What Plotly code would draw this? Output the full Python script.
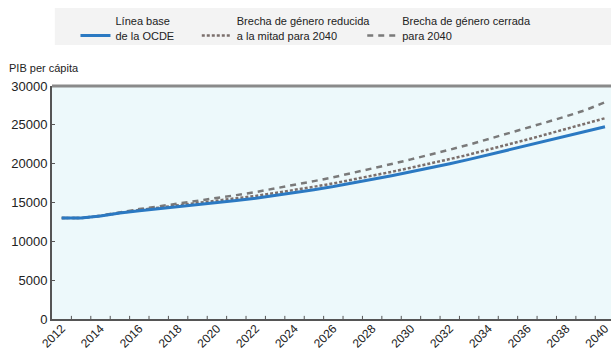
import plotly.graph_objects as go

# PIB per cápita projections, 2012-2040
years = list(range(2012, 2041))

linea_base = [13000, 13000, 13250, 13650, 13950, 14200, 14450, 14700, 14950, 15250,
              15550, 15900, 16250, 16650, 17050, 17500, 17950, 18450, 18950, 19450,
              20000, 20550, 21150, 21750, 22300, 22900, 23500, 24100, 24750]

brecha_mitad = [13000, 13000, 13270, 13700, 14050, 14330, 14620, 14900, 15200, 15520,
                15850, 16220, 16600, 17030, 17460, 17940, 18420, 18950, 19480, 20010,
                20590, 21170, 21800, 22430, 23110, 23790, 24470, 25150, 25850]

brecha_cerrada = [13000, 13000, 13300, 13750, 14150, 14500, 14850, 15200, 15550, 15950,
                  16350, 16800, 17250, 17750, 18250, 18800, 19350, 19950, 20550, 21150,
                  21800, 22450, 23150, 23850, 24600, 25350, 26100, 26900, 27900]

names = ["Línea base<br>de la OCDE",
         "Brecha de género reducida<br>a la mitad para 2040",
         "Brecha de género cerrada<br>para 2040"]

y_ticks = [0, 5000, 10000, 15000, 20000, 25000, 30000]
x_ticks = list(range(2012, 2041, 2))
x_bounds = [y - 0.5 for y in range(2012, 2042)]

FONT = "Liberation Sans, Arial, sans-serif"
X_RANGE = [2011.5, 2040.31]

fig = go.Figure()

# draw order: dashed and dotted under the baseline
fig.add_trace(go.Scatter(x=years, y=brecha_cerrada, name=names[2], mode="lines",
                         line=dict(color="#7a7a7a", width=2.5, dash="6px,5px"),
                         legend="legend3"))
fig.add_trace(go.Scatter(x=years, y=brecha_mitad, name=names[1], mode="lines",
                         line=dict(color="#7b6f6c", width=2.5, dash="3px,2px"),
                         legend="legend2"))
fig.add_trace(go.Scatter(x=years, y=linea_base, name=names[0], mode="lines",
                         line=dict(color="#2b79c2", width=3),
                         legend="legend"))

def leg(x):
    return dict(x=x, y=1.337, xanchor="left", yanchor="top",
                bgcolor="rgba(0,0,0,0)",
                font=dict(family=FONT, size=11, color="#222222"),
                valign="bottom", itemwidth=30)

fig.update_layout(
    width=611, height=352,
    margin=dict(l=52, r=0, t=86, b=33, autoexpand=False),
    paper_bgcolor="white",
    plot_bgcolor="#edf9fb",
    showlegend=True,
    legend=leg(0.042),
    legend2=leg(0.259),
    legend3=leg(0.555),
    font=dict(family=FONT, size=12, color="#222222"),
    xaxis=dict(
        range=X_RANGE,
        tickmode="array", tickvals=x_ticks, ticktext=[str(v) for v in x_ticks],
        tickangle=-45, ticks="", showgrid=False, zeroline=False,
        showline=True, linecolor="#555555", linewidth=2,
        ticklabelstandoff=-4, ticklabeloverflow="allow",
        tickfont=dict(family=FONT, size=12, color="#222222"),
    ),
    yaxis=dict(
        range=[0, 30000],
        tickmode="array", tickvals=y_ticks, ticktext=[str(v) for v in y_ticks],
        ticks="inside", ticklen=3, tickcolor="#555555",
        showgrid=False, zeroline=False,
        showline=True, linecolor="#555555", linewidth=2,
        tickfont=dict(family=FONT, size=13, color="#222222"),
    ),
    shapes=[
        # legend band
        dict(type="rect", xref="paper", yref="paper",
             x0=0.005, x1=1.0, y0=1.176, y1=1.335,
             fillcolor="#f3f3f3", line=dict(width=0), layer="below"),
        # top frame line
        dict(type="line", xref="paper", yref="paper", x0=0, x1=1, y0=1, y1=1,
             line=dict(color="#8a8a8a", width=3)),
    ],
    annotations=[
        dict(text="PIB per cápita", xref="paper", yref="paper",
             x=-0.081, y=1.078, xanchor="left", yanchor="middle",
             showarrow=False, font=dict(family=FONT, size=11, color="#222222")),
    ],
)

# category boundary tick marks along the year axis
for xb in x_bounds:
    if X_RANGE[0] < xb < X_RANGE[1]:
        fig.add_shape(type="line", xref="x", yref="y", x0=xb, x1=xb, y0=0, y1=400,
                      line=dict(color="#555555", width=1))

fig.write_html("out.html")
